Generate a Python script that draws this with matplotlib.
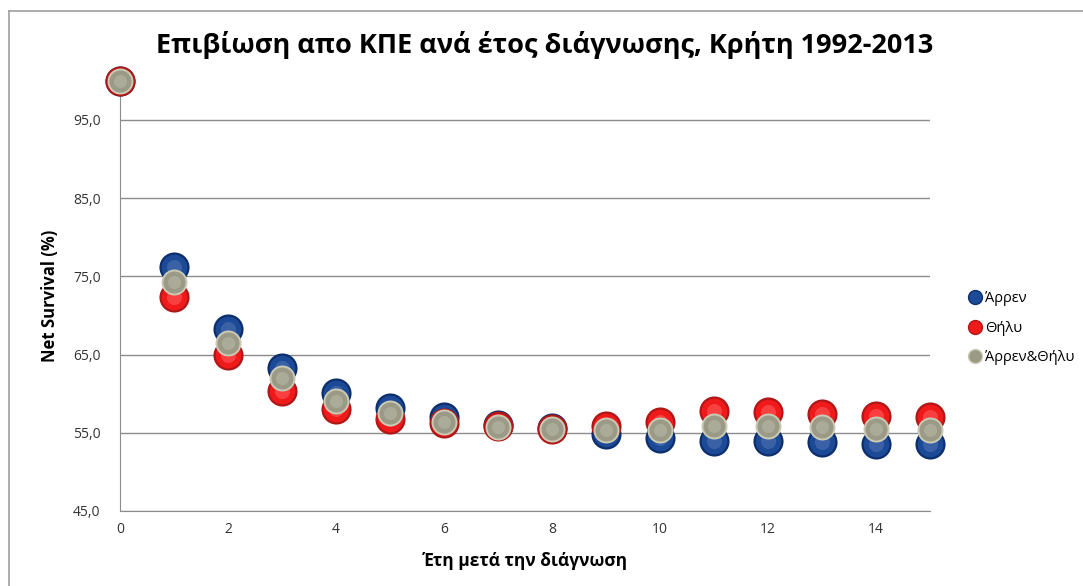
import numpy as np
import matplotlib
matplotlib.use("Agg")
import matplotlib.pyplot as plt
from matplotlib.lines import Line2D

plt.rcParams['font.family'] = ['Open Sans', 'DejaVu Sans']

# δεδομένα (εκτίμηση από το διάγραμμα)
years = [0, 1, 2, 3, 4, 5, 6, 7, 8, 9, 10, 11, 12, 13, 14, 15]
arren = [100.0, 76.2, 68.2, 63.3, 60.1, 58.2, 57.0, 56.0, 55.6, 54.9, 54.3, 54.0, 53.9, 53.8, 53.6, 53.5]
thilu = [100.0, 72.4, 64.9, 60.3, 58.0, 56.8, 56.2, 55.9, 55.5, 55.9, 56.4, 57.8, 57.6, 57.4, 57.2, 57.0]
mazi = [100.0, 74.3, 66.5, 62.0, 59.1, 57.5, 56.4, 55.8, 55.5, 55.3, 55.3, 55.9, 55.9, 55.7, 55.5, 55.3]
labels = ["Άρρεν", "Θήλυ", "Άρρεν&Θήλυ"]

W, H = 1083, 586
fig = plt.figure(figsize=(W / 100, H / 100), dpi=100)
ax = fig.add_axes([120 / W, 1 - 511 / H, 810 / W, (511 - 80.7) / H])

# "γυαλιστερά" σημεία: σκούρο περίγραμμα, γέμισμα, ανοιχτό κέντρο
styles = [
    (arren, "#0d2f6e", "#1c4a96", "#4f72b0", 470),
    (thilu, "#b01818", "#f01a1a", "#ff5a5a", 470),
    (mazi, "#c9c9b4", "#9a9a86", "#b8b8a8", 350),
]
for i, (vals, dark, mid, light, size) in enumerate(styles):
    z = 3 + i
    ax.scatter(years, vals, s=size, color=dark, zorder=z, linewidths=0, clip_on=False)
    ax.scatter(years, vals, s=size * 0.72, color=mid, zorder=z, linewidths=0, clip_on=False)
    ax.scatter(years, vals, s=size * 0.25, color=light, zorder=z, linewidths=0, alpha=0.6, clip_on=False)

ax.set_xlim(0, 15)
ax.set_ylim(45, 100)
ax.set_xticks(range(0, 15, 2))
ax.set_yticks(np.arange(45, 100, 10))
ax.set_yticklabels([f"{v:.1f}".replace(".", ",") for v in np.arange(45, 100, 10)])
ax.grid(axis='y', color='#8c8c8c', linewidth=1)
ax.set_axisbelow(True)
for s in ['top', 'right']:
    ax.spines[s].set_visible(False)
for s in ['left', 'bottom']:
    ax.spines[s].set_color('#8c8c8c')
ax.tick_params(length=0, labelsize=10, colors='#333333', pad=8)
ax.tick_params(axis='y', pad=14)

ax.set_xlabel("Έτη μετά την διάγνωση", fontsize=12.5, fontweight='bold', labelpad=11)
ax.set_ylabel("Net Survival (%)", fontsize=12, fontweight='bold', labelpad=10)
fig.text(545 / W, 1 - 45 / H, "Επιβίωση απο ΚΠΕ ανά έτος διάγνωσης, Κρήτη 1992-2013",
         ha='center', va='center', fontsize=19.5, fontweight='bold')

handles = [Line2D([], [], marker='o', linestyle='none', markersize=10,
                  markerfacecolor=c[2], markeredgecolor=c[1]) for c in styles]
fig.legend(handles, labels, loc='upper left', bbox_to_anchor=(953 / W, 1 - 278 / H),
           frameon=False, fontsize=10.5, handletextpad=0.1, labelspacing=1.0,
           handlelength=1.2)

# πλαίσιο διαγράμματος
fig.add_artist(Line2D([9 / W, 9 / W], [0, 1 - 11 / H], color='#a0a0a0', lw=1.2))
fig.add_artist(Line2D([9 / W, 1], [1 - 11 / H, 1 - 11 / H], color='#a0a0a0', lw=1.2))

fig.savefig("out.png", dpi=100)
